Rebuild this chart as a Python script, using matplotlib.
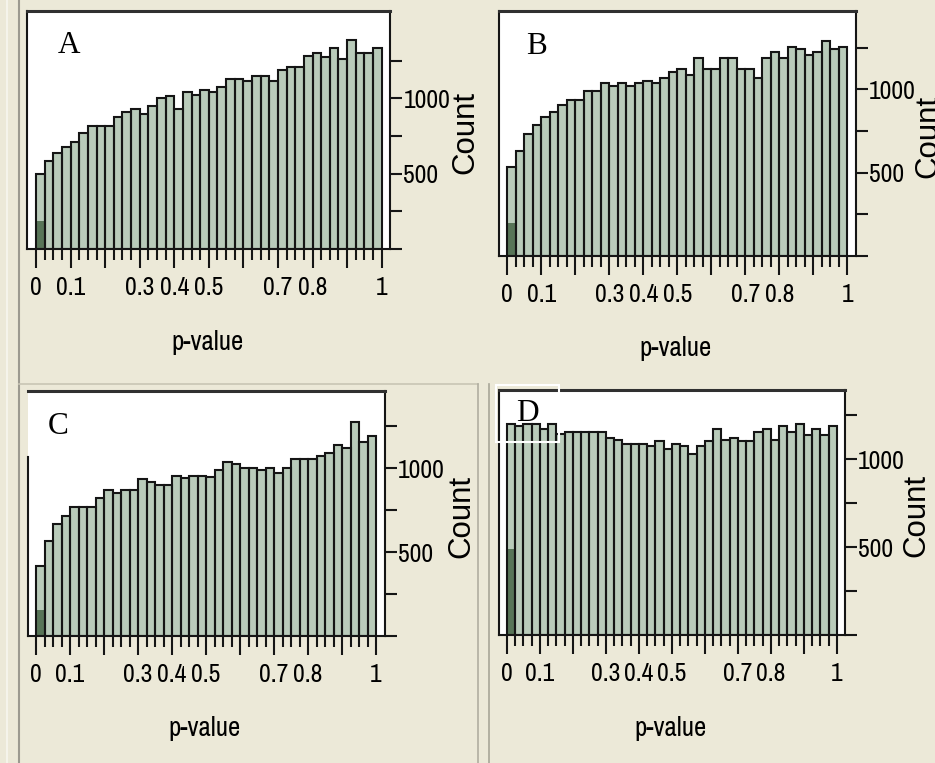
import matplotlib
matplotlib.use("Agg")
import matplotlib.pyplot as plt
from matplotlib import font_manager
from matplotlib.font_manager import FontProperties
from matplotlib.patches import Rectangle
from matplotlib.lines import Line2D
import numpy as np


def find_narrow_font():
    """Return a FontProperties for the narrowest regular sans face available."""
    entries = font_manager.fontManager.ttflist
    regular = [f for f in entries
               if f.style == "normal" and f.weight in (400, "normal", "regular")]
    for f in regular:
        if f.name == "Liberation Sans Narrow":
            return FontProperties(fname=f.fname)
    for f in regular:
        if ("Condensed" in f.name or "Narrow" in f.name) and "Mono" not in f.name \
                and "Serif" not in f.name:
            return FontProperties(fname=f.fname)
    for f in regular:
        if f.stretch in ("condensed", "semi-condensed", "extra-condensed") \
                and "Mono" not in f.name and "Serif" not in f.name:
            return FontProperties(fname=f.fname)
    return FontProperties(family=["Liberation Sans", "DejaVu Sans"])


FP_NARROW = find_narrow_font()
FP_SANS = FontProperties(family=["Liberation Sans", "DejaVu Sans"])
FP_SERIF = FontProperties(family=["Liberation Serif", "DejaVu Serif"])

# ---- histogram data: 40 p-value bins of width 0.025 ----
bin_width = 0.025
n_bins = 40

counts_a = [496, 584, 637, 677, 712, 768, 819, 819, 819, 876,
            907, 929, 894, 951, 1004, 1018, 929, 1040, 1022, 1057,
            1040, 1077, 1128, 1128, 1115, 1150, 1150, 1115, 1190, 1206,
            1206, 1279, 1301, 1277, 1332, 1261, 1389, 1299, 1299, 1332]
counts_b = [534, 630, 734, 784, 834, 866, 904, 936, 936, 988,
            988, 1036, 1020, 1036, 1020, 1036, 1052, 1036, 1070, 1104,
            1124, 1088, 1186, 1120, 1120, 1186, 1186, 1120, 1120, 1070,
            1186, 1224, 1186, 1256, 1240, 1208, 1224, 1288, 1240, 1256]
counts_c = [419, 567, 668, 718, 769, 769, 769, 821, 871, 851,
            871, 871, 936, 920, 901, 901, 956, 940, 952, 952,
            950, 988, 1040, 1024, 1004, 1004, 988, 1004, 972, 1004,
            1056, 1056, 1056, 1076, 1089, 1139, 1123, 1274, 1155, 1191]
counts_d = [1203, 1188, 1203, 1203, 1173, 1203, 1142, 1154, 1154, 1154,
            1154, 1154, 1123, 1108, 1089, 1089, 1089, 1074, 1104, 1059,
            1089, 1074, 1028, 1074, 1104, 1173, 1108, 1123, 1104, 1104,
            1154, 1173, 1108, 1188, 1154, 1203, 1139, 1173, 1139, 1188]

# selected (highlighted) part of the first bin
selected_a = 188
selected_b = 196
selected_c = 155
selected_d = 490

panel_names = ["A", "B", "C", "D"]
x_tick_labels = ["0", "0.1", "", "0.3", "0.4", "0.5", "", "0.7", "0.8", "", "1"]
y_tick_values = [0, 250, 500, 750, 1000, 1250]
y_tick_labels = ["", "", "500", "", "1000", ""]

BG = "#ECE9D8"
FILL = "#B9CBBA"
DARK = "#587558"
EDGE = "#151515"

W, H = 935, 763
fig = plt.figure(figsize=(W / 100, H / 100), dpi=100, facecolor=BG)
renderer = fig.canvas.get_renderer()


def fit_size(text, fp, target_px, base=20.0):
    t = fig.text(0, 0, text, fontproperties=fp, fontsize=base)
    w = t.get_window_extent(renderer).width
    t.remove()
    return base * target_px / w


tick_size = 0.5 * (fit_size("0.3", FP_NARROW, 30) + fit_size("1000", FP_NARROW, 46))
xlabel_size = fit_size("p-value", FP_NARROW, 72)
ylabel_size = min(fit_size("Count", FP_SANS, 84), 22.5)


def fx(px):
    return px / W


def fy(py):
    return 1 - py / H


# pixel frames: left, right, top, bottom ; y top limit ; letter position ;
# p-value label top ; Count label left edge
layout = [
    ((27.4, 390.3, 11, 249), 1579, (68.5, 45.5), 330, 450),
    ((498.8, 855.8, 11, 256), 1470, (536.5, 46), 336, 913),
    ((27.5, 384.5, 391, 636), 1461, (58, 426), 716, 446),
    ((498.5, 845.0, 390, 635), 1394, (527.5, 413.5), 716, 901),
]
all_counts = [counts_a, counts_b, counts_c, counts_d]
all_selected = [selected_a, selected_b, selected_c, selected_d]

bin_starts = np.arange(n_bins) * bin_width

axes = []
for name, counts, sel, ((l, r, t, b), ytop, (lx, ly), xl_top, yl_left) in zip(
        panel_names, all_counts, all_selected, layout):
    ax = fig.add_axes([fx(l), fy(b), (r - l) / W, (b - t) / H])
    ax.set_facecolor("white")
    ax.bar(bin_starts, counts, width=bin_width, align="edge",
           color=FILL, edgecolor="none", zorder=1)
    ax.bar(bin_starts[:1], [sel], width=bin_width, align="edge",
           color=DARK, edgecolor="none", zorder=2)
    ax.bar(bin_starts, counts, width=bin_width, align="edge",
           fill=False, edgecolor=EDGE, linewidth=1.5, zorder=3)
    ax.set_xlim(-0.025, 1.025)
    ax.set_ylim(0, ytop)

    ax.set_xticks(np.round(np.arange(11) * 0.1, 1))
    ax.set_xticks(bin_starts[1:].tolist() + [1.0], minor=True)
    ax.set_xticklabels(x_tick_labels, fontproperties=FP_NARROW, fontsize=tick_size)
    ax.tick_params(axis="x", which="major", direction="out", length=13.5,
                   width=1.5, pad=6, color=EDGE)
    ax.tick_params(axis="x", which="minor", direction="out", length=8,
                   width=1.5, color=EDGE)

    ax.yaxis.tick_right()
    ax.yaxis.set_label_position("right")
    ax.set_yticks(y_tick_values)
    ax.set_yticklabels(y_tick_labels, fontproperties=FP_NARROW, fontsize=tick_size)
    ax.tick_params(axis="y", which="major", direction="out", length=8.5,
                   width=1.5, pad=1, color=EDGE)

    for side in ["left", "right", "bottom"]:
        ax.spines[side].set_linewidth(1.5)
        ax.spines[side].set_color(EDGE)
    ax.spines["top"].set_linewidth(2.2)
    ax.spines["top"].set_color("#303030")

    ax.set_xlabel("p-value", fontproperties=FP_NARROW, fontsize=xlabel_size)
    ax.xaxis.set_label_coords(0.495, (b - xl_top) / (b - t))
    ax.set_ylabel("Count", fontproperties=FP_SANS, fontsize=ylabel_size)
    ax.yaxis.set_label_coords((yl_left - l) / (r - l), 0.49)

    ax.text((lx - l) / (r - l), (b - ly) / (b - t), name,
            transform=ax.transAxes, ha="center", va="center",
            fontproperties=FP_SERIF, fontsize=22.5, color="black", zorder=5)
    axes.append(ax)

# panel C: label area covers the upper part of the left frame
axes[2].spines["left"].set_bounds(0, (636 - 457) / 0.1677)

# panel D: white outline box around the label
fig.add_artist(Rectangle((fx(496), fy(442)), (559 - 496) / W, (442 - 385) / H,
                         transform=fig.transFigure, fill=False,
                         edgecolor="white", linewidth=1.5, zorder=10))

# window frame lines
fig.add_artist(Line2D([fx(7), fx(7)], [0, 1], transform=fig.transFigure,
                      color="#F8F7F0", linewidth=1.2))
fig.add_artist(Line2D([fx(18.5), fx(18.5)], [0, 1], transform=fig.transFigure,
                      color="#9C9A90", linewidth=1.5))
fig.add_artist(Line2D([fx(18.5), fx(478)], [fy(384), fy(384)],
                      transform=fig.transFigure, color="#C8C5B5", linewidth=1.2))
fig.add_artist(Line2D([fx(478), fx(478)], [fy(384), 0],
                      transform=fig.transFigure, color="#B0AEA0", linewidth=1.2))
fig.add_artist(Line2D([fx(489), fx(489)], [fy(384), 0],
                      transform=fig.transFigure, color="#A8A698", linewidth=1.2))

fig.savefig("out.png", dpi=100, facecolor=BG)
